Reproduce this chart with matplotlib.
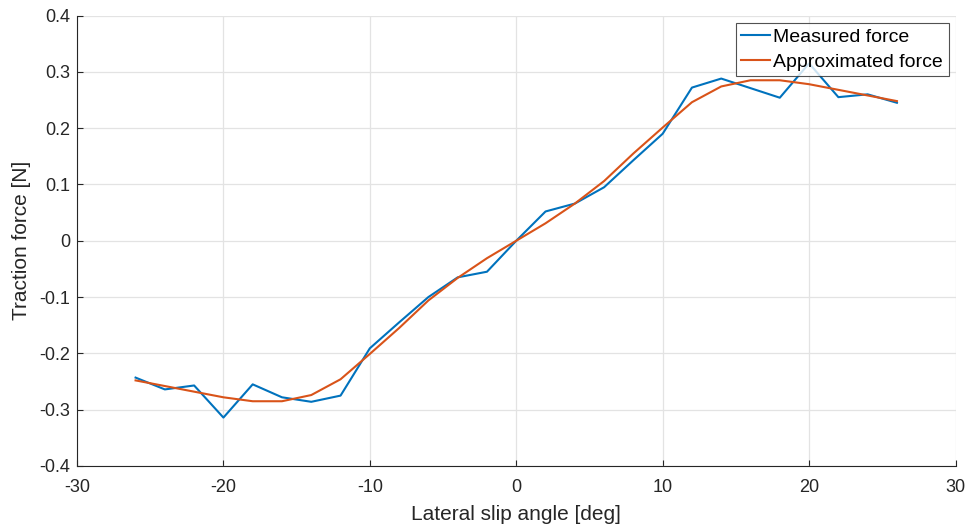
import numpy as np
import matplotlib
matplotlib.use('Agg')
import matplotlib.pyplot as plt

plt.rcParams['font.family'] = ['Liberation Sans', 'DejaVu Sans']
plt.rcParams['axes.unicode_minus'] = False

# slip angle samples [deg]
slip_angle = [-26, -24, -22, -20, -18, -16, -14, -12, -10, -8, -6, -4, -2, 0,
              2, 4, 6, 8, 10, 12, 14, 16, 18, 20, 22, 24, 26]

# measured traction force [N]
measured = [-0.243, -0.264, -0.257, -0.314, -0.255, -0.278, -0.286, -0.275,
            -0.191, -0.145, -0.100, -0.065, -0.055, 0.0,
            0.052, 0.066, 0.095, 0.143, 0.190, 0.272, 0.288, 0.271,
            0.254, 0.315, 0.255, 0.260, 0.245]

# fitted traction force [N]
approximated = [-0.248, -0.258, -0.268, -0.278, -0.285, -0.285, -0.274, -0.246,
                -0.201, -0.155, -0.106, -0.066, -0.031, 0.0,
                0.031, 0.066, 0.106, 0.155, 0.201, 0.246, 0.274, 0.285,
                0.285, 0.278, 0.268, 0.258, 0.248]

x_ticks = [-30, -20, -10, 0, 10, 20, 30]
y_ticks = [-0.4, -0.3, -0.2, -0.1, 0, 0.1, 0.2, 0.3, 0.4]

fig = plt.figure(figsize=(9.68, 5.29), dpi=100)
ax = fig.add_axes([77 / 968, 1 - 466 / 529, 878.5 / 968, 450.5 / 529])

ax.plot(slip_angle, measured, color='#0072BD', lw=1.5, label='Measured force')
ax.plot(slip_angle, approximated, color='#D95319', lw=1.5, label='Approximated force')

ax.set_xlim(-30, 30)
ax.set_ylim(-0.4, 0.4)
ax.set_xticks(x_ticks)
ax.set_xticklabels([f'{v:g}' for v in x_ticks])
ax.set_yticks(y_ticks)
ax.set_yticklabels([f'{v:g}' for v in y_ticks])

ax.grid(True, color='#e3e3e3', lw=0.9)
ax.set_axisbelow(True)
for side in ('top', 'right'):
    ax.spines[side].set_visible(False)
for side in ('left', 'bottom'):
    ax.spines[side].set_color('#262626')
    ax.spines[side].set_linewidth(0.8)
ax.tick_params(direction='in', length=4, width=0.8, colors='#262626',
               labelsize=13)
ax.tick_params(axis='x', pad=9)
ax.tick_params(axis='y', pad=5)

ax.set_xlabel('Lateral slip angle [deg]', fontsize=15, color='#262626', labelpad=7)
ax.set_ylabel('Traction force [N]', fontsize=15, color='#262626', labelpad=6)

leg = ax.legend(loc='upper right', bbox_to_anchor=(1 - 7 / 878.5, 1 - 7.5 / 450.5),
                fontsize=14, frameon=True, fancybox=False, edgecolor='#262626',
                handlelength=1.5, handletextpad=0.15, borderpad=0.28,
                labelspacing=0.36, borderaxespad=0)
leg.get_frame().set_linewidth(0.8)

fig.savefig('out.png', dpi=100)
